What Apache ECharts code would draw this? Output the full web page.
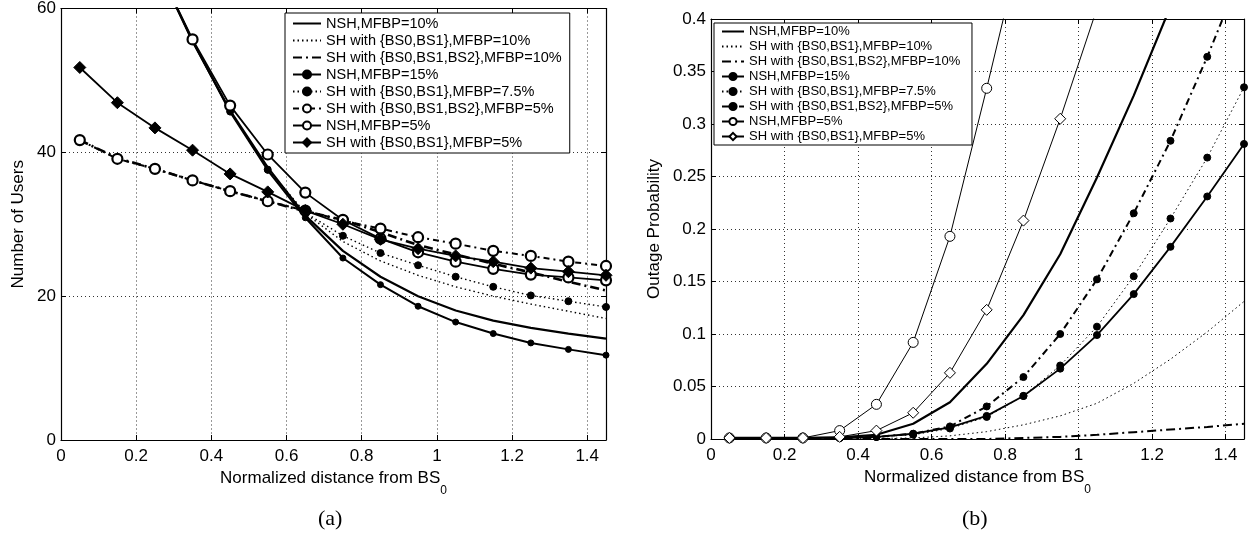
<!DOCTYPE html>
<html><head><meta charset="utf-8">
<script src="https://cdn.jsdelivr.net/npm/echarts@6/dist/echarts.min.js"></script>
<style>html,body{margin:0;padding:0;background:#fff}#c{width:1253px;height:550px}</style>
</head><body><div id="c"></div>
<script>
// x positions (normalized distance from BS0)
const xs = [0.05,0.15,0.25,0.35,0.45,0.55,0.65,0.75,0.85,0.95,1.05,1.15,1.25,1.35,1.45];
const xTicks = [0,0.2,0.4,0.6,0.8,1,1.2,1.4];

const names = [
  'NSH,MFBP=10%',
  'SH with {BS0,BS1},MFBP=10%',
  'SH with {BS0,BS1,BS2},MFBP=10%',
  'NSH,MFBP=15%',
  'SH with {BS0,BS1},MFBP=7.5%',
  'SH with {BS0,BS1,BS2},MFBP=5%',
  'NSH,MFBP=5%',
  'SH with {BS0,BS1},MFBP=5%'
];

// (a) Number of users
const nsh10_a    = [null,null,66.5,55.4,45.8,37.9,31.2,26.3,22.7,20.0,18.0,16.6,15.6,14.8,14.1];
const sh01_10_a  = [null,null,66.5,55.5,45.8,37.7,31.5,27.6,24.9,22.9,21.3,20.0,18.9,17.9,16.9];
const sh012_10_a = [41.7,39.2,37.7,36.1,34.6,33.2,31.8,30.6,28.9,27.1,25.8,24.5,23.3,22.0,20.8];
const nsh15_a    = [null,null,66.5,55.5,45.6,37.5,30.9,25.3,21.6,18.6,16.4,14.8,13.5,12.6,11.8];
const sh01_75_a  = [null,null,66.5,55.5,45.7,37.6,31.6,28.4,26.0,24.3,22.7,21.3,20.1,19.3,18.5];
const sh012_5_a  = [41.7,39.1,37.7,36.1,34.6,33.2,31.9,30.5,29.4,28.2,27.3,26.3,25.6,24.8,24.2];
const nsh5_a     = [null,null,66.5,55.7,46.5,39.7,34.4,30.6,28.0,26.1,24.8,23.8,23.0,22.6,22.2];
const sh01_5_a   = [51.8,46.9,43.4,40.3,37.0,34.5,31.9,30.0,27.9,26.6,25.6,24.8,23.9,23.4,22.9];

// (b) Outage probability
const nsh10_b    = [0.001,0.001,0.001,0.0015,0.004,0.0145,0.035,0.0716,0.118,0.176,0.249,0.327,0.412,null,null];
const sh01_10_b  = [0,0,0,0,0.0005,0.001,0.003,0.007,0.0135,0.022,0.034,0.053,0.076,0.102,0.131];
const sh012_10_b = [0,0,0,0,0,0,0,0,0.001,0.002,0.004,0.0065,0.009,0.0115,0.0145];
const nsh15_b    = [0.001,0.001,0.001,0.001,0.002,0.005,0.011,0.022,0.041,0.067,0.099,0.138,0.183,0.231,0.281];
const sh01_75_b  = [0.001,0.001,0.001,0.001,0.002,0.004,0.010,0.021,0.041,0.070,0.107,0.155,0.210,0.268,0.335];
const sh012_5_b  = [0.001,0.001,0.001,0.001,0.002,0.005,0.012,0.031,0.059,0.100,0.152,0.215,0.284,0.364,0.45];
const nsh5_b     = [0.001,0.001,0.001,0.008,0.033,0.092,0.193,0.334,0.48,null,null,null,null,null,null];
const sh01_5_b   = [0.001,0.001,0.001,0.002,0.008,0.025,0.063,0.123,0.208,0.305,0.41,null,null,null,null];

const yTicksA = [0,20,40,60];
const yTicksB = [0,0.05,0.1,0.15,0.2,0.25,0.3,0.35,0.4];

const FONT = 'Liberation Sans, Arial, Helvetica, sans-serif';
const pair = arr => xs.map((x,i) => [x, arr[i]]);
const DASHDOT = [9,4,2,4];
const DOT = [1.5,3];

function mk(name, data, grid, o) {
  return {
    type: 'line', name: name, xAxisIndex: grid*2, yAxisIndex: grid*2,
    data: pair(data), clip: true, animation: false, connectNulls: false,
    symbol: o.symbol || 'none', symbolSize: o.size || 6, showSymbol: !!o.symbol,
    lineStyle: { color: '#000', width: o.width, type: o.type || 'solid' },
    itemStyle: { color: o.fill || '#000', borderColor: '#000', borderWidth: o.bw || 1 },
    emphasis: { disabled: true }, z: o.z || 2
  };
}

const seriesA = [
  mk(names[0], nsh10_a, 0, {width: 2.2}),
  mk(names[1], sh01_10_a, 0, {width: 1.4, type: DOT}),
  mk(names[2], sh012_10_a, 0, {width: 2.6, type: DASHDOT}),
  mk(names[3], nsh15_a, 0, {width: 2, symbol: 'circle', size: 6}),
  mk(names[4], sh01_75_a, 0, {width: 1.4, type: DOT, symbol: 'circle', size: 7}),
  mk(names[5], sh012_5_a, 0, {width: 2, type: [6,4,2,4], symbol: 'circle', size: 10, fill: '#fff', bw: 2.2, z: 3}),
  mk(names[6], nsh5_a, 0, {width: 1.8, symbol: 'circle', size: 10, fill: '#fff', bw: 2.2, z: 3}),
  mk(names[7], sh01_5_a, 0, {width: 1.8, symbol: 'diamond', size: 12, z: 3})
];
const seriesB = [
  mk(names[0] + ' ', nsh10_b, 1, {width: 2.2}),
  mk(names[1] + ' ', sh01_10_b, 1, {width: 1, type: DOT}),
  mk(names[2] + ' ', sh012_10_b, 1, {width: 2, type: DASHDOT}),
  mk(names[3] + ' ', nsh15_b, 1, {width: 1.8, symbol: 'circle', size: 7}),
  mk(names[4] + ' ', sh01_75_b, 1, {width: 1, type: DOT, symbol: 'circle', size: 7}),
  mk(names[5] + ' ', sh012_5_b, 1, {width: 2, type: [7,4,2,4], symbol: 'circle', size: 7}),
  mk(names[6] + ' ', nsh5_b, 1, {width: 1, symbol: 'circle', size: 10, fill: '#fff', bw: 1}),
  mk(names[7] + ' ', sh01_5_b, 1, {width: 1, symbol: 'diamond', size: 11, fill: '#fff', bw: 1})
];

const gridLine = { show: true, lineStyle: { color: '#333', type: [1,3], width: 1 } };
const lab = { color: '#000', fontFamily: FONT, fontSize: 17 };
const axisLine = { show: true, onZero: false, lineStyle: { color: '#000', width: 1.2 } };
const tick = { show: true, inside: true, length: 5, lineStyle: { color: '#000' } };

function xAxes(grid) {
  return [
    { type: 'value', gridIndex: grid, min: 0, max: 1.45, interval: 0.2, position: 'bottom',
      axisLine, axisTick: tick, splitLine: gridLine,
      axisLabel: Object.assign({ margin: 8, showMaxLabel: false,
        formatter: v => xTicks.indexOf(Math.round(v*10)/10) >= 0 ? String(Math.round(v*10)/10) : '' }, lab),
      name: 'Normalized distance from BS{s|0}', nameLocation: 'middle', nameGap: 18,
      nameTextStyle: Object.assign({ rich: { s: { fontSize: 12, fontFamily: FONT, color: '#000', padding: [24,0,0,0] } } }, lab) },
    { type: 'value', gridIndex: grid, min: 0, max: 1.45, interval: 0.2, position: 'top',
      axisLine, axisTick: tick, splitLine: { show: false }, axisLabel: { show: false } }
  ];
}
function yAxes(grid, max, interval, name, gap, ticks) {
  return [
    { type: 'value', gridIndex: grid, min: 0, max: max, interval: interval, position: 'left',
      axisLine, axisTick: tick, splitLine: gridLine,
      axisLabel: Object.assign({ margin: 5,
        formatter: v => { const t = ticks.find(q => Math.abs(q - v) < 1e-9); return t === undefined ? '' : String(t); } }, lab),
      name: name, nameLocation: 'middle', nameGap: gap, nameTextStyle: lab },
    { type: 'value', gridIndex: grid, min: 0, max: max, interval: interval, position: 'right',
      axisLine, axisTick: tick, splitLine: { show: false }, axisLabel: { show: false } }
  ];
}

// legend entries: series without markers show only their line
const noMarker = [0, 1, 2];
const legendData = list => list.map((s, i) => noMarker.indexOf(i) >= 0
  ? { name: s.name, itemStyle: { opacity: 0 } } : { name: s.name });

const legendBase = {
  orient: 'vertical', backgroundColor: '#fff', borderColor: '#000', borderWidth: 1,
  borderRadius: 0, selectedMode: false, align: 'left'
};

const chart = echarts.init(document.getElementById('c'), null, { renderer: 'canvas' });
chart.setOption({
  animation: false,
  backgroundColor: '#fff',
  grid: [
    { left: 61, top: 8, width: 545, height: 432, containLabel: false },
    { left: 711, top: 19, width: 533, height: 420, containLabel: false }
  ],
  xAxis: xAxes(0).concat(xAxes(1)),
  yAxis: yAxes(0, 60, 20, 'Number of Users', 34, yTicksA).concat(yAxes(1, 0.4, 0.05, 'Outage Probability', 48, yTicksB)),
  legend: [
    Object.assign({}, legendBase, { left: 285, top: 13, padding: [3, 8, 3, 7], itemWidth: 28, itemHeight: 10, itemGap: 2,
      textStyle: { fontFamily: FONT, fontSize: 14.5, lineHeight: 15, color: '#000' },
      data: legendData(seriesA) }),
    Object.assign({}, legendBase, { left: 714, top: 23, padding: [2, 8, 2, 7], itemWidth: 22, itemHeight: 9, itemGap: 2,
      textStyle: { fontFamily: FONT, fontSize: 13, lineHeight: 13, color: '#000' },
      data: legendData(seriesB) })
  ],
  graphic: [
    { type: 'text', left: 318, top: 508, style: { text: '(a)', font: '22px "Liberation Serif", "DejaVu Serif", serif', fill: '#000' } },
    { type: 'text', left: 962, top: 508, style: { text: '(b)', font: '22px "Liberation Serif", "DejaVu Serif", serif', fill: '#000' } }
  ],
  series: seriesA.concat(seriesB)
});
</script></body></html>
